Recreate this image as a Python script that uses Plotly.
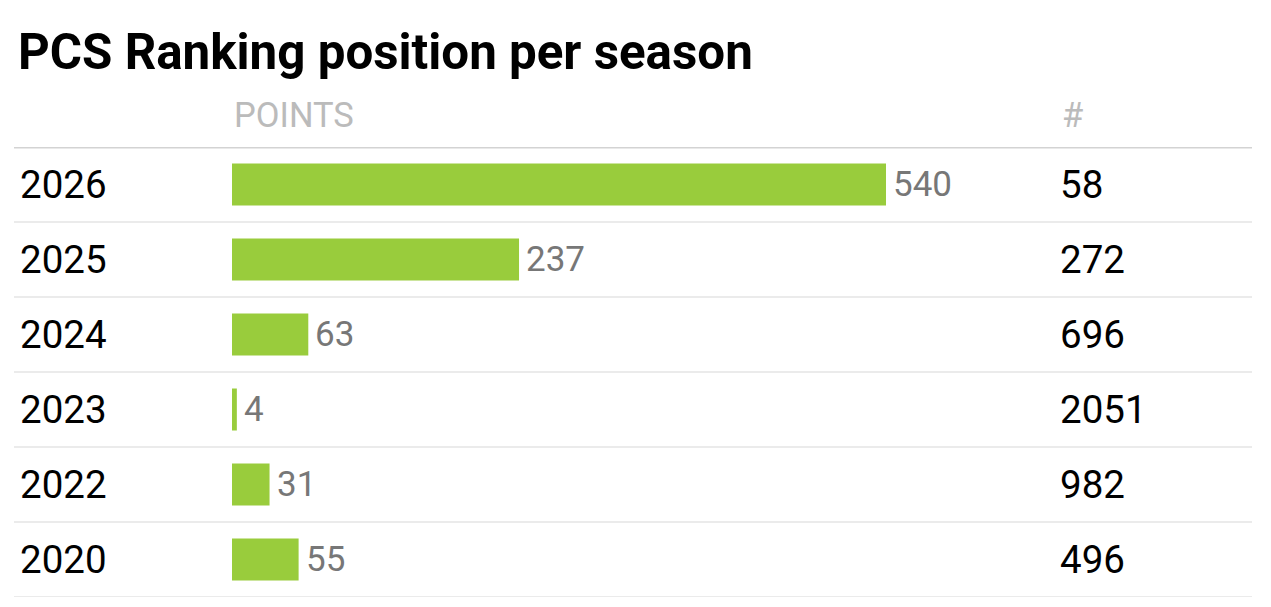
import plotly.graph_objects as go

seasons = ["2026", "2025", "2024", "2023", "2022", "2020"]
points = [540, 237, 63, 4, 31, 55]
ranks = [58, 272, 696, 2051, 982, 496]
title_text = "PCS Ranking position per season"
col_points = "POINTS"
col_rank = "#"

OFF = 8  # page body margin
W, H = 1271 - OFF, 607 - OFF
FONT = "Roboto"
GREEN = "#99cc3c"


def px(x):
    return (x - OFF) / W


fig = go.Figure()
fig.add_trace(go.Bar(
    x=points, y=list(range(len(seasons))), orientation="h", width=0.56,
    marker=dict(color=GREEN, line=dict(width=0)),
    hoverinfo="skip",
))

ann = []
shapes = []
for i, (s, p, r) in enumerate(zip(seasons, points, ranks)):
    ann.append(dict(x=px(18), xref="paper", y=i, yref="y", text=s, showarrow=False,
                    xanchor="left", yanchor="middle",
                    font=dict(family=FONT, size=38.5, color="#000000")))
    ann.append(dict(x=p, xref="x", y=i, yref="y", text=str(p), showarrow=False,
                    xanchor="left", yanchor="middle", xshift=5,
                    font=dict(family=FONT, size=35, color="#777777")))
    ann.append(dict(x=px(1058), xref="paper", y=i, yref="y", text=str(r), showarrow=False,
                    xanchor="left", yanchor="middle",
                    font=dict(family=FONT, size=38.5, color="#000000")))
    shapes.append(dict(type="line", xref="paper", yref="y", x0=px(14), x1=px(1252),
                       y0=i + 0.5, y1=i + 0.5, line=dict(color="#ebebeb", width=2)))

shapes.append(dict(type="line", xref="paper", yref="y", x0=px(14), x1=px(1252),
                   y0=-0.5, y1=-0.5, line=dict(color="#d3d3d3", width=3)))

ann.append(dict(x=px(232), xref="paper", y=0, yref="y", yshift=70, text=col_points,
                showarrow=False, xanchor="left", yanchor="middle",
                font=dict(family=FONT, size=34.5, color="#bbbbbb")))
ann.append(dict(x=px(1060), xref="paper", y=0, yref="y", yshift=70, text=col_rank,
                showarrow=False, xanchor="left", yanchor="middle",
                font=dict(family=FONT, size=34.5, color="#bbbbbb")))

fig.update_layout(
    width=W, height=H,
    margin=dict(l=0, r=0, t=147 - OFF, b=H - (597 - OFF), pad=0),
    paper_bgcolor="white", plot_bgcolor="white",
    showlegend=False,
    title=dict(text="<b>" + title_text + "</b>", x=px(18), xanchor="left", xref="paper",
               y=1 - (52 - OFF) / H, yanchor="middle", yref="container",
               font=dict(family=FONT, size=49.3, color="#000000")),
    xaxis=dict(domain=[px(232), px(886)], range=[0, 540], visible=False, fixedrange=True),
    yaxis=dict(range=[5.5, -0.5], visible=False, fixedrange=True),
    annotations=ann, shapes=shapes,
)

fig.write_html("out.html", config={"displayModeBar": False})
